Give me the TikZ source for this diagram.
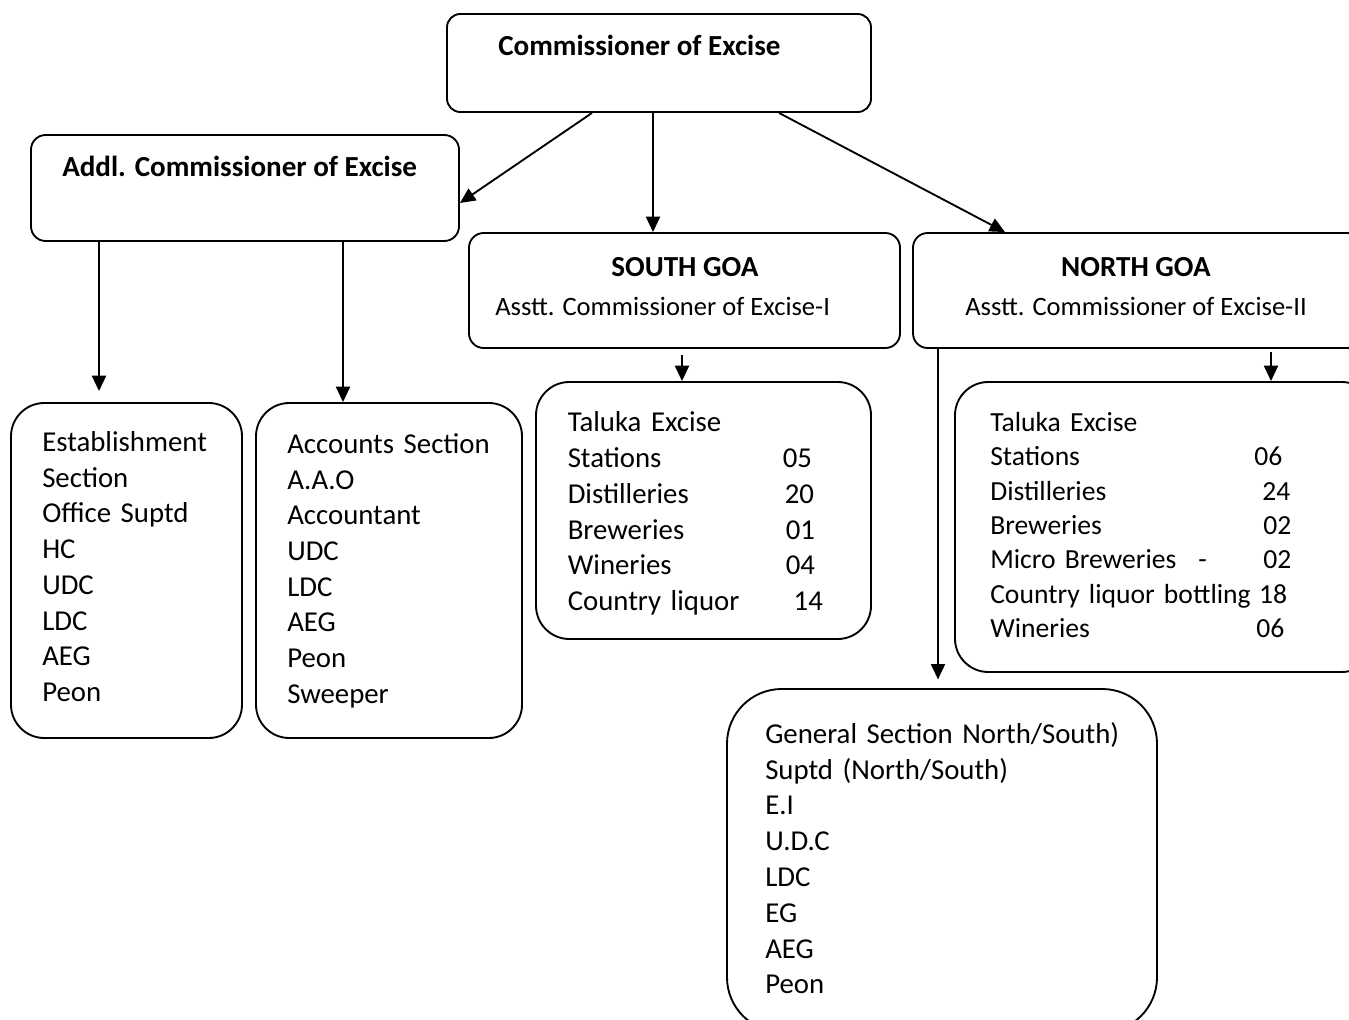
\documentclass[tikz,border=0pt]{standalone}
\usepackage{fontspec}
\setmainfont{Carlito}
\usetikzlibrary{arrows.meta,fit}
\newlength\pxu \setlength\pxu{0.75pt}
\begin{document}
\begin{tikzpicture}[x=0.75pt,y=-0.75pt,
  box/.style={draw, line width=1.4pt, inner sep=0pt},
  head/.style={inner sep=0pt, font=\fontsize{21.8}{26}\selectfont\bfseries},
  sub/.style={inner sep=0pt, anchor=base west, font=\fontsize{19.9}{26.85}\selectfont},
  list/.style={inner sep=0pt, anchor=base west, align=left, text width=14cm,
               font=\fontsize{21.6}{26.85}\selectfont},
  arr/.style={line width=1.4pt, -{Triangle[length=11.5pt,width=10.5pt]}}]
\useasboundingbox (0,0) rectangle (1349,1020);
\clip (0,0) rectangle (1349,1020);
\fill[white] (0,0) rectangle (1349,1020);

% ---- boxes ----
\node[box, rounded corners=10pt, fit={(447,14) (871,112)}] (top) {};
\node[box, rounded corners=11pt, fit={(31,135) (459,241)}] (addl) {};
\node[box, rounded corners=11pt, fit={(469,233) (900,348)}] (south) {};
\node[box, rounded corners=11pt, fit={(913,233) (1362,348)}] (north) {};
\node[box, rounded corners=25pt, fit={(11,403) (242,738)}] (est) {};
\node[box, rounded corners=25pt, fit={(256,403) (522,738)}] (acc) {};
\node[box, rounded corners=25pt, fit={(536,382) (871,639)}] (staluka) {};
\node[box, rounded corners=25pt, fit={(955,382) (1375,672)}] (ntaluka) {};
\node[box, rounded corners=41pt, fit={(727,689) (1157,1032)}] (gen) {};

% ---- headings ----
\node[head, anchor=base west] (top-t) at (498,56) {Commissioner of Excise};
\node[head, anchor=base west] (addl-t) at (62,177) {Addl. Commissioner of Excise};
\node[head, anchor=base] (south-t) at (685,276.7) {SOUTH GOA};
\node[sub] (south-s) at (495,315.7) {Asstt. Commissioner of Excise-I};
\node[head, anchor=base] (north-t) at (1136,276.7) {NORTH GOA};
\node[sub] (north-s) at (965,315.7) {Asstt. Commissioner of Excise-II};

% ---- section lists ----
\node[list, font=\fontsize{21.6}{26.8}\selectfont] (est-t) at (42,451.5) {Establishment\\Section\\Office Suptd\\HC\\UDC\\LDC\\AEG\\Peon};
\node[list, font=\fontsize{21.6}{26.8}\selectfont] (acc-t) at (287,453.3) {Accounts Section\\A.A.O\\Accountant\\UDC\\LDC\\AEG\\Peon\\Sweeper};
\node[list] (staluka-t) at (567.5,431.7) {Taluka Excise\\
  \makebox[215\pxu][l]{Stations}05\\
  \makebox[217\pxu][l]{Distilleries}20\\
  \makebox[218\pxu][l]{Breweries}01\\
  \makebox[218\pxu][l]{Wineries}04\\
  \makebox[226\pxu][l]{Country liquor}14};
\node[list, font=\fontsize{20.7}{25.7}\selectfont] (ntaluka-t) at (990,431.7) {Taluka Excise\\
  \makebox[264\pxu][l]{Stations}06\\
  \makebox[272\pxu][l]{Distilleries}24\\
  \makebox[273\pxu][l]{Breweries}02\\
  \makebox[208\pxu][l]{Micro Breweries}\makebox[65\pxu][l]{-}02\\
  \makebox[269\pxu][l]{Country liquor bottling}18\\
  \makebox[266\pxu][l]{Wineries}06};
\node[list] (gen-t) at (765,743.3) {General Section North/South)\\Suptd (North/South)\\E.I\\U.D.C\\LDC\\EG\\AEG\\Peon};

% ---- connectors ----
\draw[arr] (592,0 |- top.south) -- (addl.east |- 0,203);
\draw[arr] (653,0 |- top.south) -- (653,0 |- south.north);
\draw[arr] (779,0 |- top.south) -- (1005,0 |- north.north);
\draw[arr, shorten >=8.25pt] (99,0 |- addl.south) -- (99,0 |- est.north);
\draw[arr] (343,0 |- addl.south) -- (343,0 |- acc.north);
\draw[arr, shorten <=4.5pt] (682,0 |- south.south) -- (682,0 |- staluka.north);
\draw[arr, shorten <=2pt] (1271,0 |- north.south) -- (1271,0 |- ntaluka.north);
\draw[arr, shorten >=6.5pt] (938,0 |- north.south) -- (938,0 |- gen.north);
\end{tikzpicture}
\end{document}
